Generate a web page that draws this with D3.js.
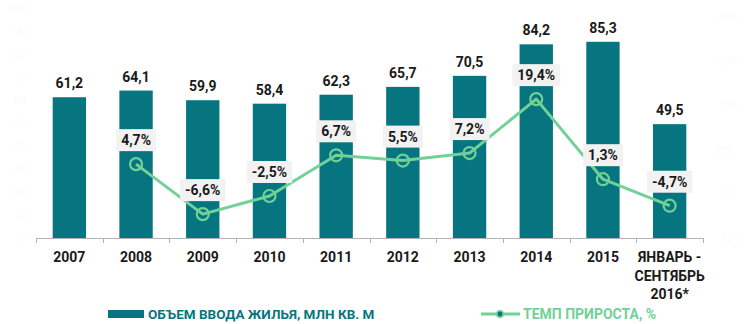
<!DOCTYPE html>
<html>
<head>
<meta charset="utf-8">
<script src="https://cdn.jsdelivr.net/npm/d3@7"></script>
<style>
  html, body { margin: 0; padding: 0; background: #ffffff; }
  svg { display: block; font-family: Roboto, "Noto Sans", sans-serif; }
</style>
</head>
<body>
<svg id="chart" width="750" height="324"></svg>
<script>
// Housing commissioned (mln sq. m) and year-on-year growth (%)
const categories = ["2007", "2008", "2009", "2010", "2011", "2012", "2013", "2014", "2015", "ЯНВАРЬ - СЕНТЯБРЬ 2016*"];
const categoryLines = [["2007"], ["2008"], ["2009"], ["2010"], ["2011"], ["2012"], ["2013"], ["2014"], ["2015"], ["ЯНВАРЬ -", "СЕНТЯБРЬ", "2016*"]];
const volume = [61.2, 64.1, 59.9, 58.4, 62.3, 65.7, 70.5, 84.2, 85.3, 49.5];
const growth = [null, 4.7, -6.6, -2.5, 6.7, 5.5, 7.2, 19.4, 1.3, -4.7];
const leftTicks = [0, 10, 20, 30, 40, 50, 60, 70, 80, 90, 100];
const rightTicks = [-12, -2, 8, 18, 28, 38];
const seriesNames = ["ОБЪЕМ ВВОДА ЖИЛЬЯ, МЛН КВ. М", "ТЕМП ПРИРОСТА, %"];

const fmt = v => String(v.toFixed(1)).replace(".", ",");

const barColor = "#07757f";
const lineColor = "#72d196";

const svg = d3.select("#chart");

const x = d3.scaleBand().domain(categories).range([36, 703]).paddingInner(0.5).paddingOuter(0.25);
const y = d3.scaleLinear().domain([0, 100]).range([238, 8]);
const y2 = d3.scaleLinear().domain([-12, 40]).range([238, 8]);

// barely visible value axes
svg.append("g").selectAll("text").data(leftTicks).join("text")
  .attr("x", 26).attr("y", d => y(d) + 4).attr("text-anchor", "end")
  .attr("font-size", 11).attr("fill", "#fbfbfb").text(d => d);
svg.append("g").selectAll("text").data(rightTicks).join("text")
  .attr("x", 718).attr("y", d => y2(d) + 4).attr("text-anchor", "start")
  .attr("font-size", 11).attr("fill", "#fbfbfb").text(d => d + "%");

// bars
svg.append("g").selectAll("rect").data(categories).join("rect")
  .attr("x", d => x(d))
  .attr("width", x.bandwidth())
  .attr("y", (d, i) => y(volume[i]))
  .attr("height", (d, i) => y(0) - y(volume[i]))
  .attr("fill", barColor);

// bar value labels
svg.append("g").selectAll("text").data(categories).join("text")
  .attr("x", d => x(d) + x.bandwidth() / 2)
  .attr("y", (d, i) => y(volume[i]) - 9)
  .attr("text-anchor", "middle")
  .attr("font-size", 14).attr("font-weight", 700).attr("fill", "#1a1a1a")
  .text((d, i) => fmt(volume[i]));

// category axis
const step = x.step();
const axis = svg.append("g");
axis.append("line").attr("x1", 36).attr("x2", 703).attr("y1", 238.5).attr("y2", 238.5)
  .attr("stroke", "#b3b3b3").attr("stroke-width", 1);
axis.selectAll("line.tick").data(d3.range(categories.length + 1)).join("line")
  .attr("class", "tick")
  .attr("x1", i => Math.round(36 + i * step) + 0.5).attr("x2", i => Math.round(36 + i * step) + 0.5)
  .attr("y1", 238).attr("y2", 243)
  .attr("stroke", "#b3b3b3");
const labels = axis.selectAll("text").data(categories).join("text")
  .attr("x", d => x(d) + x.bandwidth() / 2)
  .attr("y", 262)
  .attr("text-anchor", "middle")
  .attr("font-size", 14).attr("font-weight", 700).attr("fill", "#1a1a1a");
labels.each(function (d, i) {
  const t = d3.select(this);
  categoryLines[i].forEach((line, j) => {
    t.append("tspan").attr("x", x(d) + x.bandwidth() / 2).attr("dy", j === 0 ? 0 : 18.5).text(line);
  });
});

// growth line
const pts = categories.map((c, i) => ({ c, v: growth[i] })).filter(p => p.v !== null);
const cx = p => x(p.c) + x.bandwidth() / 2;
svg.append("path").datum(pts)
  .attr("d", d3.line().x(cx).y(p => y2(p.v)))
  .attr("fill", "none").attr("stroke", lineColor).attr("stroke-width", 3)
  .attr("stroke-linejoin", "round");
svg.append("g").selectAll("circle").data(pts).join("circle")
  .attr("cx", cx).attr("cy", p => y2(p.v)).attr("r", 6)
  .attr("fill", "none").attr("stroke", lineColor).attr("stroke-width", 2.2);

// growth labels in light boxes
const gl = svg.append("g").selectAll("g").data(pts).join("g")
  .attr("transform", p => `translate(${cx(p)},${y2(p.v) - 24})`);
gl.append("text")
  .attr("text-anchor", "middle").attr("y", 5)
  .attr("font-size", 14).attr("font-weight", 700).attr("fill", "#1a1a1a")
  .text(p => fmt(p.v) + "%");
gl.each(function () {
  const g = d3.select(this);
  const w = g.select("text").node().getComputedTextLength() + 10;
  g.insert("rect", "text").attr("x", -w / 2).attr("y", -11).attr("width", w).attr("height", 22)
    .attr("fill", "#f2f2f2");
});

// legend
const lg = svg.append("g");
lg.append("rect").attr("x", 108).attr("y", 310).attr("width", 36).attr("height", 8).attr("fill", barColor);
lg.append("text").attr("x", 148).attr("y", 319)
  .attr("font-size", 13.5).attr("font-weight", 700).attr("fill", barColor).text(seriesNames[0]);
lg.append("line").attr("x1", 481).attr("x2", 520).attr("y1", 314).attr("y2", 314)
  .attr("stroke", lineColor).attr("stroke-width", 3);
lg.append("circle").attr("cx", 500).attr("cy", 314).attr("r", 3.2)
  .attr("fill", barColor).attr("stroke", lineColor).attr("stroke-width", 1.5);
lg.append("text").attr("x", 523).attr("y", 319)
  .attr("font-size", 14).attr("font-weight", 700).attr("fill", lineColor).text(seriesNames[1]);
</script>
</body>
</html>
